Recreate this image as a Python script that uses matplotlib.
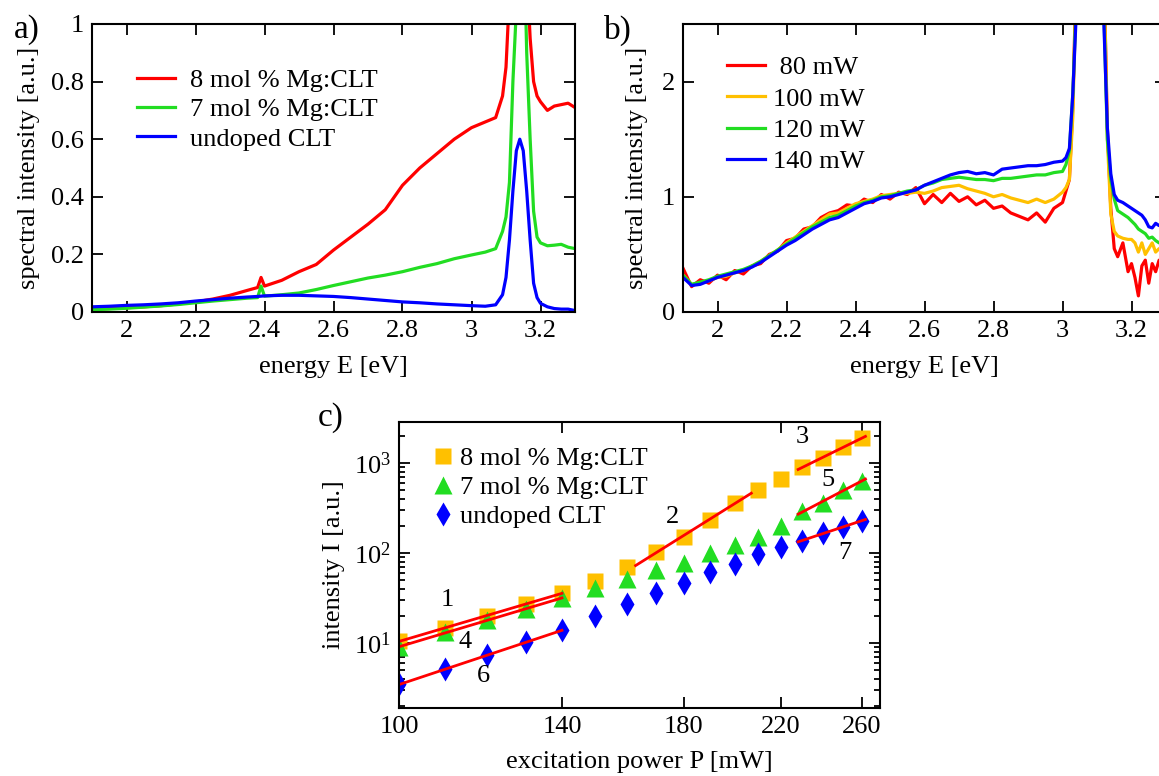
import numpy as np
import matplotlib
matplotlib.use("Agg")
import matplotlib.pyplot as plt
from matplotlib.ticker import FormatStrFormatter, LogFormatterMathtext, NullLocator, FixedLocator, LogLocator

plt.rcParams['font.family'] = ['Liberation Serif', 'DejaVu Serif']
plt.rcParams['mathtext.fontset'] = 'custom'
plt.rcParams['mathtext.rm'] = 'Liberation Serif'
plt.rcParams['mathtext.it'] = 'Liberation Serif:italic'
plt.rcParams['font.size'] = 19

# ---- panel a: spectra of the three crystals
E_a = [1.90, 1.95, 2.00, 2.05, 2.10, 2.15, 2.20, 2.25, 2.30, 2.35, 2.38, 2.39, 2.40,
       2.45, 2.50, 2.55, 2.60, 2.65, 2.70, 2.75, 2.80, 2.85, 2.90, 2.95, 3.00, 3.04,
       3.07, 3.09, 3.10, 3.11, 3.12, 3.13, 3.14, 3.15, 3.16, 3.17, 3.18, 3.19, 3.20,
       3.22, 3.24, 3.26, 3.28, 3.30]
mg8 = [0.010, 0.012, 0.015, 0.018, 0.022, 0.028, 0.035, 0.045, 0.058, 0.075, 0.085, 0.120, 0.090,
       0.110, 0.140, 0.165, 0.215, 0.260, 0.305, 0.355, 0.440, 0.500, 0.550, 0.600, 0.640, 0.660,
       0.675, 0.750, 0.850, 1.100, 1.500, 2.000, 2.000, 2.000, 1.200, 0.950, 0.800, 0.750, 0.730,
       0.700, 0.715, 0.720, 0.725, 0.710]
mg7 = [0.008, 0.010, 0.013, 0.017, 0.021, 0.026, 0.032, 0.038, 0.043, 0.048, 0.050, 0.090, 0.055,
       0.060, 0.066, 0.078, 0.092, 0.105, 0.118, 0.128, 0.140, 0.155, 0.168, 0.185, 0.198, 0.208,
       0.220, 0.280, 0.330, 0.450, 0.800, 1.050, 1.600, 1.400, 0.900, 0.600, 0.350, 0.260, 0.240,
       0.230, 0.232, 0.235, 0.225, 0.220]
undoped = [0.018, 0.020, 0.023, 0.025, 0.028, 0.032, 0.038, 0.043, 0.048, 0.052, 0.054, 0.055, 0.056,
           0.058, 0.058, 0.056, 0.054, 0.050, 0.045, 0.040, 0.035, 0.032, 0.028, 0.025, 0.022, 0.020,
           0.025, 0.060, 0.120, 0.250, 0.420, 0.560, 0.600, 0.560, 0.420, 0.250, 0.100, 0.050, 0.030,
           0.018, 0.012, 0.010, 0.010, 0.005]

# ---- panel b: 8 mol % sample at different pump powers
E_b = [1.900, 1.925, 1.950, 1.975, 2.000, 2.025, 2.050, 2.075, 2.100, 2.125, 2.150, 2.175,
       2.200, 2.225, 2.250, 2.275, 2.300, 2.325, 2.350, 2.375, 2.400, 2.425, 2.450, 2.475,
       2.500, 2.525, 2.550, 2.575, 2.600, 2.625, 2.650, 2.675, 2.700, 2.725, 2.750, 2.775,
       2.800, 2.825, 2.850, 2.875, 2.900, 2.925, 2.950, 2.975, 3.000, 3.010, 3.020, 3.030,
       3.040, 3.050, 3.110, 3.120, 3.130, 3.140, 3.150, 3.160, 3.175, 3.190, 3.200, 3.210,
       3.220, 3.230, 3.240, 3.250, 3.260, 3.270, 3.280, 3.300]
p80 = [0.38, 0.22, 0.28, 0.25, 0.32, 0.28, 0.36, 0.33, 0.40, 0.42, 0.50, 0.53,
       0.62, 0.64, 0.72, 0.74, 0.82, 0.86, 0.88, 0.93, 0.92, 0.98, 0.95, 1.02,
       0.98, 1.04, 1.02, 1.08, 0.94, 1.02, 0.95, 1.03, 0.96, 1.00, 0.93, 0.97,
       0.90, 0.92, 0.86, 0.83, 0.80, 0.86, 0.78, 0.90, 0.95, 1.05, 1.15, 1.80,
       3.00, 4.50, 5.00, 3.00, 1.60, 0.90, 0.55, 0.48, 0.60, 0.35, 0.42, 0.30,
       0.14, 0.40, 0.45, 0.25, 0.42, 0.35, 0.45, 0.40]
p100 = [0.32, 0.24, 0.25, 0.27, 0.30, 0.31, 0.34, 0.36, 0.40, 0.44, 0.49, 0.54,
        0.60, 0.65, 0.70, 0.75, 0.80, 0.85, 0.86, 0.90, 0.94, 0.96, 0.98, 1.01,
        1.02, 1.03, 1.03, 1.04, 1.03, 1.05, 1.08, 1.09, 1.10, 1.07, 1.05, 1.03,
        1.00, 1.02, 0.99, 0.97, 0.95, 0.98, 0.95, 0.98, 1.04, 1.08, 1.15, 1.70,
        2.90, 4.50, 5.00, 3.00, 1.50, 0.85, 0.70, 0.66, 0.64, 0.63, 0.63, 0.60,
        0.52, 0.60, 0.50, 0.55, 0.60, 0.52, 0.55, 0.52]
p120 = [0.32, 0.24, 0.26, 0.28, 0.31, 0.33, 0.35, 0.37, 0.40, 0.44, 0.49, 0.54,
        0.59, 0.64, 0.69, 0.74, 0.78, 0.82, 0.84, 0.88, 0.92, 0.95, 0.97, 1.00,
        1.01, 1.03, 1.05, 1.06, 1.10, 1.12, 1.15, 1.16, 1.17, 1.16, 1.15, 1.15,
        1.14, 1.16, 1.16, 1.17, 1.18, 1.19, 1.19, 1.21, 1.22, 1.28, 1.40, 1.90,
        2.70, 4.00, 4.50, 2.60, 1.50, 1.15, 0.98, 0.88, 0.85, 0.82, 0.79, 0.76,
        0.72, 0.70, 0.68, 0.64, 0.65, 0.62, 0.60, 0.60]
p140 = [0.30, 0.23, 0.24, 0.27, 0.30, 0.32, 0.34, 0.36, 0.39, 0.43, 0.48, 0.53,
        0.58, 0.62, 0.67, 0.72, 0.76, 0.80, 0.82, 0.86, 0.90, 0.94, 0.96, 0.99,
        1.00, 1.02, 1.04, 1.06, 1.10, 1.13, 1.16, 1.19, 1.21, 1.22, 1.20, 1.21,
        1.19, 1.24, 1.25, 1.26, 1.27, 1.27, 1.28, 1.30, 1.31, 1.34, 1.42, 1.90,
        2.60, 4.00, 4.00, 2.50, 1.60, 1.20, 1.02, 0.97, 0.95, 0.92, 0.90, 0.88,
        0.86, 0.84, 0.80, 0.74, 0.73, 0.77, 0.75, 0.76]

# ---- panel c: integrated intensity vs excitation power
P = [100, 110, 120, 130, 140, 150, 160, 170, 180, 190, 200, 210, 220, 230, 240, 250, 260]
I_mg8 = [10.5, 14.8, 20, 26.9, 36.2, 48.9, 70, 103, 152, 233, 362, 501, 659, 896, 1146, 1494, 1880]
I_mg7 = [9.0, 13.2, 17.9, 23.7, 31.9, 41.2, 51, 64.2, 78, 99, 123, 151, 200, 292, 359, 501, 631]
I_und = [3.47, 5.1, 7.3, 10.3, 13.8, 20, 26.9, 36.2, 47, 61.2, 76.3, 96.5, 117, 137, 167, 192, 229]

# fits: (series, fit range, drawn range, label, label position)
fits = [('mg8', (100, 140), (100, 140), '1', (110.6, 30)),
        ('mg8', (170, 200), (163, 207), '2', (175.8, 251)),
        ('mg8', (230, 260), (228, 262), '3', (230, 1944)),
        ('mg7', (100, 140), (100, 140), '4', (114.6, 10.3)),
        ('mg7', (230, 260), (228, 262), '5', (242.5, 647)),
        ('und', (100, 140), (100, 140), '6', (119.1, 4.3)),
        ('und', (230, 260), (228, 262), '7', (251, 100))]

fig = plt.figure(figsize=(11.59, 7.76), dpi=100)
W, H = 1159.0, 776.0

def box(l, t, r, b):
    return [l / W, 1 - b / H, (r - l) / W, (b - t) / H]

def style(ax):
    ax.tick_params(which='both', direction='in', top=True, right=True, width=1.3)
    ax.tick_params(which='major', length=8, pad=6)
    ax.tick_params(which='minor', length=4.5)
    for s in ax.spines.values():
        s.set_linewidth(1.5)

red = '#ff0000'
green = '#22dd22'
blue = '#0000ff'
orange = '#ffc000'

# a)
ax = fig.add_axes(box(92, 24, 575, 312))
ax.plot(E_a, mg8, color=red, lw=2.3, label='8 mol % Mg:CLT')
ax.plot(E_a, mg7, color=green, lw=2.3, label='7 mol % Mg:CLT')
ax.plot(E_a, undoped, color=blue, lw=2.3, label='undoped CLT')
ax.set_xlim(1.9, 3.3)
ax.set_ylim(0, 1)
ax.set_xticks([2, 2.2, 2.4, 2.6, 2.8, 3, 3.2])
ax.set_yticks([0, 0.2, 0.4, 0.6, 0.8, 1])
ax.xaxis.set_major_formatter(FormatStrFormatter('%g'))
ax.yaxis.set_major_formatter(FormatStrFormatter('%g'))
ax.set_xlabel('energy E [eV]', labelpad=10)
ax.set_ylabel('spectral intensity [a.u.]', labelpad=8)
style(ax)
ax.legend(loc='upper left', bbox_to_anchor=(0.093, 0.845), frameon=False, borderpad=0,
          handlelength=1.45, handletextpad=0.55, labelspacing=0.22, borderaxespad=0)
fig.text(14 / W, 1 - 30 / H, 'a)', fontsize=24, va='center')

# b)
ax = fig.add_axes(box(683, 24, 1166, 312))
ax.plot(E_b, p80, color=red, lw=2.3, label=' 80 mW')
ax.plot(E_b, p100, color=orange, lw=2.3, label='100 mW')
ax.plot(E_b, p120, color=green, lw=2.3, label='120 mW')
ax.plot(E_b, p140, color=blue, lw=2.3, label='140 mW')
ax.set_xlim(1.9, 3.3)
ax.set_ylim(0, 2.5)
ax.set_xticks([2, 2.2, 2.4, 2.6, 2.8, 3, 3.2])
ax.set_yticks([0, 1, 2])
ax.xaxis.set_major_formatter(FormatStrFormatter('%g'))
ax.set_xlabel('energy E [eV]', labelpad=10)
ax.set_ylabel('spectral intensity [a.u.]', labelpad=10)
style(ax)
ax.legend(loc='upper left', bbox_to_anchor=(0.091, 0.89), frameon=False, borderpad=0,
          handlelength=1.45, handletextpad=0.3, labelspacing=0.3, borderaxespad=0)
fig.text(604 / W, 1 - 30 / H, 'b)', fontsize=24, va='center')

# c)
ax = fig.add_axes(box(399, 422, 880, 708))
series = {'mg8': I_mg8, 'mg7': I_mg7, 'und': I_und}
ax.plot(P, I_mg8, 's', color=orange, ms=11.5, mec='none', label='8 mol % Mg:CLT')
ax.plot(P, I_mg7, '^', color=green, ms=12.5, mec='none', label='7 mol % Mg:CLT')
ax.plot(P, I_und, 'd', color=blue, ms=12.5, mec='none', label='undoped CLT')
Pa = np.array(P, dtype=float)
for key, (f0, f1), (d0, d1), txt, (tx, ty) in fits:
    y = np.array(series[key], dtype=float)
    m = (Pa >= f0) & (Pa <= f1)
    k, c = np.polyfit(np.log10(Pa[m]), np.log10(y[m]), 1)
    xs = np.array([d0, d1], dtype=float)
    ax.plot(xs, 10 ** (k * np.log10(xs) + c), color=red, lw=2)
    ax.text(tx, ty, txt, ha='center', va='center')
ax.set_xscale('log')
ax.set_yscale('log')
ax.set_xlim(100, 270)
ax.set_ylim(1.9, 2850)
ax.xaxis.set_major_locator(FixedLocator([100, 140, 180, 220, 260]))
ax.xaxis.set_minor_locator(NullLocator())
ax.xaxis.set_major_formatter(FormatStrFormatter('%d'))
ax.yaxis.set_major_locator(LogLocator(base=10))
ax.yaxis.set_major_formatter(LogFormatterMathtext())
ax.set_xlabel('excitation power P [mW]', labelpad=9)
ax.set_ylabel('intensity I [a.u.]', labelpad=6)
style(ax)
ax.legend(loc='upper left', bbox_to_anchor=(0.064, 0.915), frameon=False, borderpad=0,
          handlelength=1.0, handletextpad=0.15, labelspacing=0.22, borderaxespad=0)
fig.text(318 / W, 1 - 418 / H, 'c)', fontsize=24, va='center')

fig.savefig('out.png', dpi=100)
